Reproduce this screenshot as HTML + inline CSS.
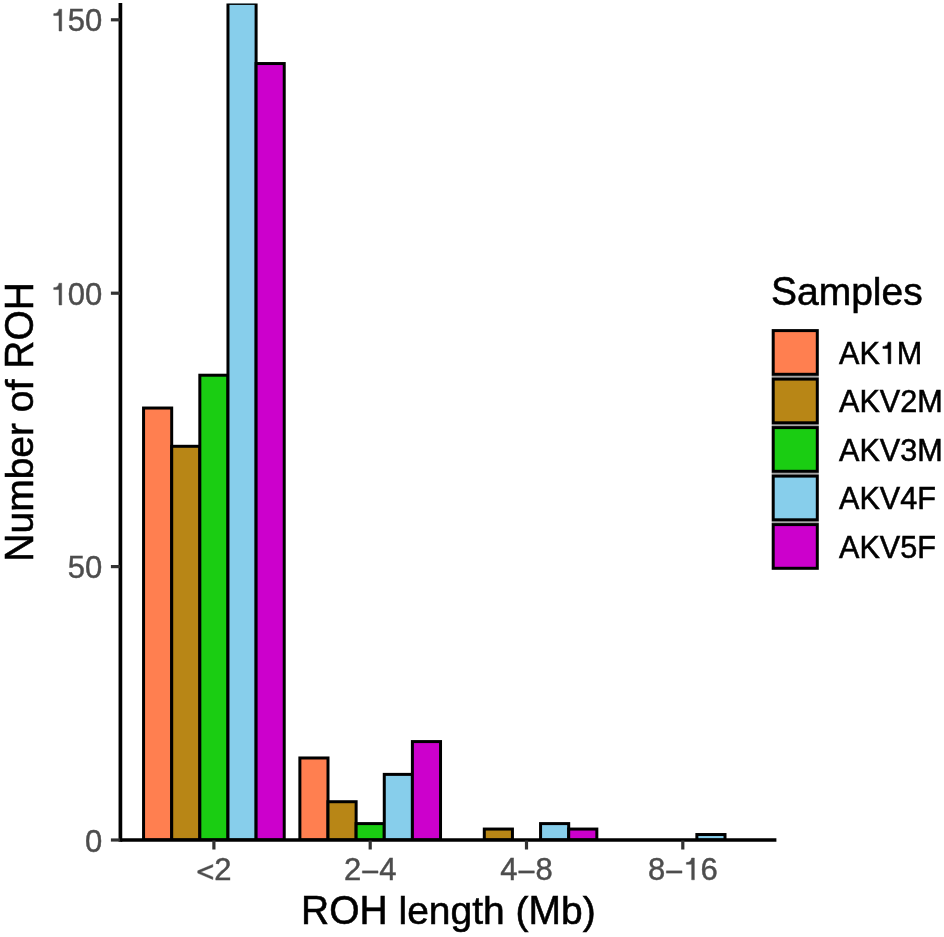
<!DOCTYPE html>
<html><head><meta charset="utf-8"><style>
html,body{margin:0;padding:0;background:#fff;}
body{width:944px;height:937px;overflow:hidden;}
svg{display:block;will-change:transform;}
text{font-family:"Liberation Sans",sans-serif;}
.k{fill:#000;stroke:#000;stroke-width:0.55px;}
.g{fill:#4D4D4D;stroke:#4D4D4D;stroke-width:0.45px;}
</style></head><body>
<svg width="944" height="937" viewBox="0 0 944 937">
<rect x="0" y="0" width="944" height="937" fill="#fff"/>
<defs><path id="g1" d="M359 0L272 0L272 498L101 498L101 560C187 563 250 590 270 703L359 703Z"/><path id="gmin" d="M39 216L545 216L545 289L39 289Z"/><path id="glt" d="M536 495L48 290L48 216L536 11L536 92L145 253L536 414Z"/><clipPath id="pc"><rect x="120.40" y="3.40" width="656.00" height="836.60"/></clipPath></defs>
<g clip-path="url(#pc)" stroke="#000" stroke-width="3.00">
<rect x="143.56" y="408.03" width="28.13" height="431.97" fill="#FF7F50"/>
<rect x="171.70" y="446.30" width="28.13" height="393.70" fill="#B88616"/>
<rect x="199.83" y="375.22" width="28.13" height="464.78" fill="#1ACD12"/>
<rect x="227.97" y="3.40" width="28.13" height="836.60" fill="#87CEEB"/>
<rect x="256.10" y="63.54" width="28.13" height="776.46" fill="#CC00CC"/>
<rect x="299.87" y="757.98" width="28.13" height="82.02" fill="#FF7F50"/>
<rect x="328.00" y="801.72" width="28.13" height="38.28" fill="#B88616"/>
<rect x="356.13" y="823.60" width="28.13" height="16.40" fill="#1ACD12"/>
<rect x="384.27" y="774.38" width="28.13" height="65.62" fill="#87CEEB"/>
<rect x="412.40" y="741.58" width="28.13" height="98.42" fill="#CC00CC"/>
<rect x="484.30" y="829.06" width="28.13" height="10.94" fill="#B88616"/>
<rect x="540.57" y="823.60" width="28.13" height="16.40" fill="#87CEEB"/>
<rect x="568.70" y="829.06" width="28.13" height="10.94" fill="#CC00CC"/>
<rect x="696.87" y="834.53" width="28.13" height="5.47" fill="#87CEEB"/>
</g>
<line x1="120.40" y1="2.90" x2="120.40" y2="841.85" stroke="#000" stroke-width="3.70"/>
<line x1="120.40" y1="840.00" x2="776.40" y2="840.00" stroke="#000" stroke-width="3.70"/>
<line x1="110.90" y1="840.00" x2="119.90" y2="840.00" stroke="#333333" stroke-width="3.20"/>
<text x="85.06" y="852.00" font-size="31.00" class="g">0</text>
<line x1="110.90" y1="566.60" x2="119.90" y2="566.60" stroke="#333333" stroke-width="3.20"/>
<text x="67.82" y="578.00" font-size="31.00" class="g">50</text>
<line x1="110.90" y1="293.20" x2="119.90" y2="293.20" stroke="#333333" stroke-width="3.20"/>
<use href="#g1" class="g" transform="translate(50.58 305.00) scale(0.03100 -0.03100)" style="stroke-width:14.52px"/>
<text x="67.82" y="305.00" font-size="31.00" class="g">00</text>
<line x1="110.90" y1="19.80" x2="119.90" y2="19.80" stroke="#333333" stroke-width="3.20"/>
<use href="#g1" class="g" transform="translate(50.58 31.00) scale(0.03100 -0.03100)" style="stroke-width:14.52px"/>
<text x="67.82" y="31.00" font-size="31.00" class="g">50</text>
<line x1="213.90" y1="840.50" x2="213.90" y2="849.50" stroke="#333333" stroke-width="3.20"/>
<use href="#glt" class="g" transform="translate(196.23 879.80) scale(0.03100 -0.03100)" style="stroke-width:14.52px"/>
<text x="214.33" y="879.80" font-size="31.00" class="g">2</text>
<line x1="370.20" y1="840.50" x2="370.20" y2="849.50" stroke="#333333" stroke-width="3.20"/>
<text x="343.91" y="879.80" font-size="31.00" class="g">2</text>
<use href="#gmin" class="g" transform="translate(361.15 879.80) scale(0.03100 -0.03100)" style="stroke-width:14.52px"/>
<text x="379.25" y="879.80" font-size="31.00" class="g">4</text>
<line x1="526.50" y1="840.50" x2="526.50" y2="849.50" stroke="#333333" stroke-width="3.20"/>
<text x="500.21" y="879.80" font-size="31.00" class="g">4</text>
<use href="#gmin" class="g" transform="translate(517.45 879.80) scale(0.03100 -0.03100)" style="stroke-width:14.52px"/>
<text x="535.55" y="879.80" font-size="31.00" class="g">8</text>
<line x1="682.80" y1="840.50" x2="682.80" y2="849.50" stroke="#333333" stroke-width="3.20"/>
<text x="647.89" y="879.80" font-size="31.00" class="g">8</text>
<use href="#gmin" class="g" transform="translate(665.13 879.80) scale(0.03100 -0.03100)" style="stroke-width:14.52px"/>
<use href="#g1" class="g" transform="translate(683.23 879.80) scale(0.03100 -0.03100)" style="stroke-width:14.52px"/>
<text x="700.47" y="879.80" font-size="31.00" class="g">6</text>
<text x="0" y="0" font-size="39.00" class="k" transform="translate(301.03 923.80) scale(1 1.0440)">ROH</text>
<text x="398.53" y="923.80" font-size="39.00" class="k">length</text>
<text x="515.62" y="923.80" font-size="39.00" class="k">(</text>
<text x="0" y="0" font-size="39.00" class="k" transform="translate(528.61 923.80) scale(1 1.0440)">M</text>
<text x="561.10" y="923.80" font-size="39.00" class="k">b)</text>
<g transform="translate(33.10 421.90) rotate(-90)">
<text x="0" y="0" font-size="39.00" class="k" transform="translate(-139.78 0.00) scale(1 1.0440)">N</text>
<text x="-111.62" y="0.00" font-size="39.00" class="k">umber</text>
<text x="9.76" y="0.00" font-size="39.00" class="k">of</text>
<text x="0" y="0" font-size="39.00" class="k" transform="translate(53.12 0.00) scale(1 1.0440)">ROH</text>
</g>
<text x="0" y="0" font-size="39.00" class="k" transform="translate(771.00 305.00) scale(1 1.0440)">S</text>
<text x="797.01" y="305.00" font-size="39.00" class="k">amples</text>
<rect x="771.70" y="375.50" width="47.10" height="2.40" fill="#A6A6A6"/>
<rect x="771.70" y="424.00" width="47.10" height="2.40" fill="#A6A6A6"/>
<rect x="771.70" y="472.50" width="47.10" height="2.40" fill="#A6A6A6"/>
<rect x="771.70" y="521.00" width="47.10" height="2.40" fill="#A6A6A6"/>
<rect x="773.20" y="330.60" width="44.10" height="43.70" fill="#FF7F50" stroke="#000" stroke-width="3.00"/>
<text x="0" y="0" font-size="30.60" class="k" transform="translate(839.00 363.65) scale(1 1.0440)">AK</text>
<use href="#g1" class="k" transform="translate(879.82 363.65) scale(0.03060 -0.03060)" style="stroke-width:17.97px"/>
<text x="0" y="0" font-size="30.60" class="k" transform="translate(896.83 363.65) scale(1 1.0440)">M</text>
<rect x="773.20" y="379.10" width="44.10" height="43.70" fill="#B88616" stroke="#000" stroke-width="3.00"/>
<text x="0" y="0" font-size="30.60" class="k" transform="translate(839.00 412.15) scale(1 1.0440)">AKV</text>
<text x="0" y="0" font-size="30.60" class="k" transform="translate(900.23 412.15) scale(1 1.0200)">2</text>
<text x="0" y="0" font-size="30.60" class="k" transform="translate(917.25 412.15) scale(1 1.0440)">M</text>
<rect x="773.20" y="427.60" width="44.10" height="43.70" fill="#1ACD12" stroke="#000" stroke-width="3.00"/>
<text x="0" y="0" font-size="30.60" class="k" transform="translate(839.00 460.65) scale(1 1.0440)">AKV</text>
<text x="0" y="0" font-size="30.60" class="k" transform="translate(900.23 460.65) scale(1 1.0200)">3</text>
<text x="0" y="0" font-size="30.60" class="k" transform="translate(917.25 460.65) scale(1 1.0440)">M</text>
<rect x="773.20" y="476.10" width="44.10" height="43.70" fill="#87CEEB" stroke="#000" stroke-width="3.00"/>
<text x="0" y="0" font-size="30.60" class="k" transform="translate(839.00 509.15) scale(1 1.0440)">AKV</text>
<text x="0" y="0" font-size="30.60" class="k" transform="translate(900.23 509.15) scale(1 1.0200)">4</text>
<text x="0" y="0" font-size="30.60" class="k" transform="translate(917.25 509.15) scale(1 1.0440)">F</text>
<rect x="773.20" y="524.60" width="44.10" height="43.70" fill="#CC00CC" stroke="#000" stroke-width="3.00"/>
<text x="0" y="0" font-size="30.60" class="k" transform="translate(839.00 557.65) scale(1 1.0440)">AKV</text>
<text x="0" y="0" font-size="30.60" class="k" transform="translate(900.23 557.65) scale(1 1.0200)">5</text>
<text x="0" y="0" font-size="30.60" class="k" transform="translate(917.25 557.65) scale(1 1.0440)">F</text>
</svg>
</body></html>
